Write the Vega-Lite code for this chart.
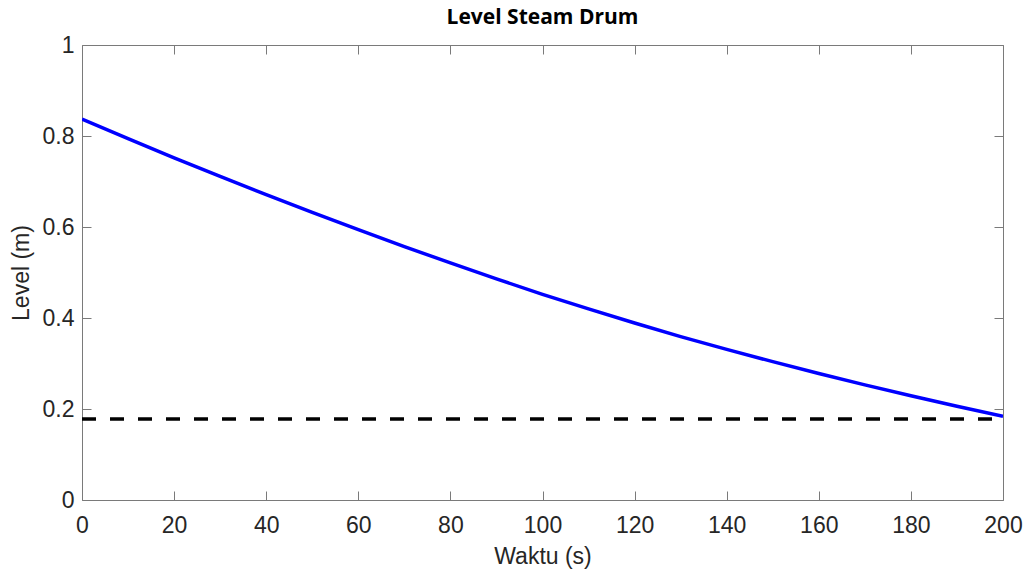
{
  "$schema": "https://vega.github.io/schema/vega-lite/v6.json",
  "autosize": "none",
  "width": 921,
  "height": 455,
  "padding": {"left": 82, "top": 45, "right": 25, "bottom": 72},
  "background": "white",
  "title": {"text": "Level Steam Drum", "font": "Open Sans", "fontSize": 21, "fontWeight": "bold", "color": "#000000", "offset": 6},
  "datasets": {
    "level": [
      {"t": 0, "level": 0.837}, {"t": 10, "level": 0.794}, {"t": 20, "level": 0.752},
      {"t": 30, "level": 0.711}, {"t": 40, "level": 0.671}, {"t": 50, "level": 0.632},
      {"t": 60, "level": 0.594}, {"t": 70, "level": 0.557}, {"t": 80, "level": 0.521},
      {"t": 90, "level": 0.486}, {"t": 100, "level": 0.452}, {"t": 110, "level": 0.420},
      {"t": 120, "level": 0.389}, {"t": 130, "level": 0.359}, {"t": 140, "level": 0.331},
      {"t": 150, "level": 0.304}, {"t": 160, "level": 0.278}, {"t": 170, "level": 0.253},
      {"t": 180, "level": 0.229}, {"t": 190, "level": 0.206}, {"t": 200, "level": 0.184}
    ],
    "setpoint": [{"t": 0, "level": 0.178}, {"t": 200, "level": 0.178}]
  },
  "config": {
    "view": {"stroke": null},
    "axis": {
      "grid": false,
      "domainColor": "#7a7a7a",
      "tickColor": "#7a7a7a",
      "tickSize": -9,
      "labelFlush": false,
      "labelOverlap": false,
      "labelFont": "Liberation Sans",
      "labelFontSize": 23,
      "labelColor": "#262626",
      "titleFont": "Liberation Sans",
      "titleFontSize": 23,
      "titleFontWeight": "normal",
      "titleColor": "#262626"
    }
  },
  "layer": [
    {
      "data": {"name": "level"},
      "mark": {"type": "line", "color": "#0000ff", "strokeWidth": 3.5, "clip": true},
      "encoding": {
        "x": {"field": "t", "type": "quantitative", "scale": {"domain": [0, 200], "nice": false},
              "axis": {"orient": "bottom", "title": "Waktu (s)", "values": [0,20,40,60,80,100,120,140,160,180,200], "labelPadding": 23, "titlePadding": 8}},
        "y": {"field": "level", "type": "quantitative", "scale": {"domain": [0, 1], "nice": false, "zero": false},
              "axis": {"orient": "left", "title": "Level (m)", "format": "~g", "values": [0,0.2,0.4,0.6,0.8,1], "labelPadding": 17, "titlePadding": 9}}
      }
    },
    {
      "data": {"name": "setpoint"},
      "mark": {"type": "line", "color": "#000000", "strokeWidth": 3.5, "strokeDash": [14, 14], "clip": true},
      "encoding": {
        "x": {"field": "t", "type": "quantitative",
              "axis": {"orient": "top", "title": null, "labels": false, "values": [0,20,40,60,80,100,120,140,160,180,200]}},
        "y": {"field": "level", "type": "quantitative",
              "axis": {"orient": "right", "title": null, "labels": false, "values": [0,0.2,0.4,0.6,0.8,1]}}
      }
    }
  ],
  "resolve": {"axis": {"x": "independent", "y": "independent"}}
}
